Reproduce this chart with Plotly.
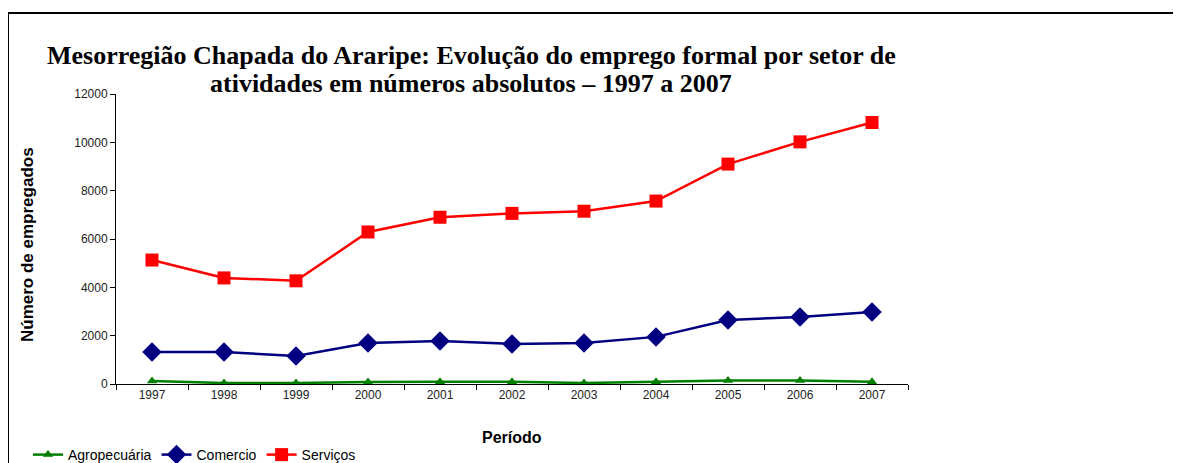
import plotly.graph_objects as go

anos = ["1997", "1998", "1999", "2000", "2001", "2002", "2003", "2004", "2005", "2006", "2007"]
agropecuaria = [120, 40, 40, 85, 90, 90, 40, 90, 140, 140, 90]
comercio = [1320, 1320, 1160, 1700, 1780, 1660, 1700, 1950, 2650, 2770, 2980]
servicos = [5130, 4390, 4270, 6290, 6900, 7060, 7150, 7570, 9100, 10020, 10820]

titulo = ["Mesorregião Chapada do Araripe: Evolução do emprego formal por setor de",
          "atividades em números absolutos – 1997 a 2007"]

W, H = 1181, 463
OFF = 8  # a pagina desloca a figura 8px (margem do body)
L, R, T, B = 116 - OFF, 908 - OFF, 94 - OFF, 384 - OFF  # area do grafico em pixels da figura


def px_x(x):
    return (x - OFF - L) / (R - L)


def px_y(y):
    return (B - (y - OFF)) / (B - T)


fig = go.Figure()

fig.add_trace(go.Scatter(
    x=anos, y=agropecuaria, name="Agropecuária", mode="lines+markers",
    line=dict(color="#008000", width=2.5),
    marker=dict(symbol="triangle-up", size=9, color="#008000"),
))
fig.add_trace(go.Scatter(
    x=anos, y=comercio, name="Comercio", mode="lines+markers",
    line=dict(color="#000080", width=2.5),
    marker=dict(symbol="diamond", size=15, color="#000080"),
))
fig.add_trace(go.Scatter(
    x=anos, y=servicos, name="Serviços", mode="lines+markers",
    line=dict(color="#FF0000", width=2.5),
    marker=dict(symbol="square", size=13, color="#FF0000"),
))

# moldura (apenas topo e esquerda aparecem no recorte)
fig.add_shape(type="line", xref="paper", yref="paper",
              x0=px_x(8), x1=px_x(W + 20), y0=px_y(13), y1=px_y(13),
              line=dict(color="black", width=2))
fig.add_shape(type="line", xref="paper", yref="paper",
              x0=px_x(8), x1=px_x(8), y0=px_y(13), y1=px_y(H + 20),
              line=dict(color="black", width=2))

# titulo em duas linhas (espacamento mais apertado que o do plotly)
for linha, yc in zip(titulo, [55, 84]):
    fig.add_annotation(
        text=linha, xref="paper", yref="paper",
        x=px_x(471), y=px_y(yc), xanchor="center", yanchor="middle", showarrow=False,
        font=dict(family="Liberation Serif", size=26, color="black", weight="bold"),
    )

fig.add_annotation(
    text="Número de empregados", xref="paper", yref="paper",
    x=px_x(27), y=px_y(245), xanchor="center", yanchor="middle",
    showarrow=False, textangle=-90,
    font=dict(family="Liberation Sans", size=17, color="black", weight="bold"),
)
fig.add_annotation(
    text="Período", xref="paper", yref="paper",
    x=px_x(512), y=px_y(437), xanchor="center", yanchor="middle", showarrow=False,
    font=dict(family="Liberation Sans", size=16, color="black", weight="bold"),
)

fig.update_layout(
    width=W, height=H,
    margin=dict(l=L, r=W - R, t=T, b=H - B, autoexpand=False),
    paper_bgcolor="white", plot_bgcolor="white",
    showlegend=True,
    legend=dict(
        orientation="h", x=px_x(28), y=px_y(455), xanchor="left", yanchor="middle",
        font=dict(family="Liberation Sans", size=14, color="black"),
        itemwidth=30, tracegroupgap=0, bgcolor="rgba(0,0,0,0)",
    ),
    xaxis=dict(
        type="category", showgrid=False, showline=True, linecolor="black", linewidth=1,
        ticks="outside", ticklen=5, tickcolor="black", tickson="boundaries",
        tickfont=dict(family="Liberation Sans", size=12, color="#222"),
        range=[-0.5, 10.5], zeroline=False,
    ),
    yaxis=dict(
        range=[0, 12000], dtick=2000, tickformat="d", showgrid=False, showline=True,
        linecolor="black", linewidth=1, ticks="outside", ticklen=5, tickcolor="black",
        tickfont=dict(family="Liberation Sans", size=12, color="#222"),
        zeroline=False,
    ),
)

fig.write_html("out.html")
